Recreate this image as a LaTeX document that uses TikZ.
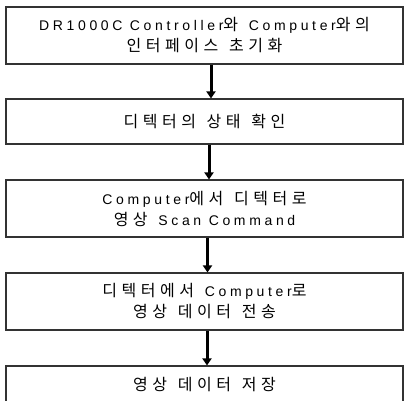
\documentclass[tikz,border=0pt]{standalone}
\usepackage{fontspec}
\newfontfamily\kr[WordSpace=3]{Noto Sans CJK KR}
\newfontfamily\latf[LetterSpace=26]{Liberation Sans}
\newcommand{\lt}[1]{{\latf\fontsize{14pt}{21pt}\selectfont #1}}
\ExplSyntaxOn
\seq_new:N \l__hs_words_seq
\bool_new:N \l__hs_first_bool
\bool_new:N \l__hs_fw_bool
\cs_new_protected:Npn \__hs_word:n #1
 {
  \bool_set_true:N \l__hs_first_bool
  \tl_map_inline:nn {#1}
   {
    \bool_if:NF \l__hs_first_bool { \hspace*{4.5pt} }
    \bool_set_false:N \l__hs_first_bool
    ##1
   }
 }
\NewDocumentCommand \hs { m }
 {
  \seq_set_split:Nnn \l__hs_words_seq { ~ } {#1}
  \bool_set_true:N \l__hs_fw_bool
  \seq_map_inline:Nn \l__hs_words_seq
   {
    \bool_if:NF \l__hs_fw_bool { \c_space_tl }
    \bool_set_false:N \l__hs_fw_bool
    \__hs_word:n {##1}
   }
 }
\ExplSyntaxOff
\usetikzlibrary{arrows.meta}
\begin{document}
\begin{tikzpicture}[x=1pt,y=-1pt,
  box/.style={draw=black!80, line width=1.1pt, rectangle, minimum width=397pt, inner sep=0pt,
    align=center, font=\kr\fontsize{16pt}{21pt}\selectfont},
  arr/.style={line width=3pt, -{Triangle[width=9pt,length=7pt]}}]
\useasboundingbox (0,0) rectangle (404,401);
\clip (0,0) rectangle (404,401);
\node[box, minimum height=57pt] (b1) at (204.5,35.5) {\lt{DR1000C Controller}\hs{와} \lt{Computer}\hs{와의}\\\hs{인터페이스 초기화}};
\node[box, minimum height=45pt] (b2) at (204.5,121.5) {\hs{디텍터의 상태 확인}};
\node[box, minimum height=57pt] (b3) at (204.5,208.5) {\lt{Computer}\hs{에서 디텍터로}\\\hs{영상} \lt{Scan Command}};
\node[box, minimum height=57pt] (b4) at (204.5,301.5) {\hs{디텍터에서} \lt{Computer}\hs{로}\\\hs{영상 데이터 전송}};
\node[box, minimum height=38pt] (b5) at (204.5,385) {\hs{영상 데이터 저장}};
\draw[arr] ([xshift=6.5pt]b1.south) -- ([xshift=6.5pt]b2.north);
\draw[arr] ([xshift=4.5pt]b2.south) -- ([xshift=4.5pt]b3.north);
\draw[arr] ([xshift=3pt]b3.south) -- ([xshift=3pt]b4.north);
\draw[arr] ([xshift=2.5pt]b4.south) -- ([xshift=2.5pt]b5.north);
\end{tikzpicture}
\end{document}
